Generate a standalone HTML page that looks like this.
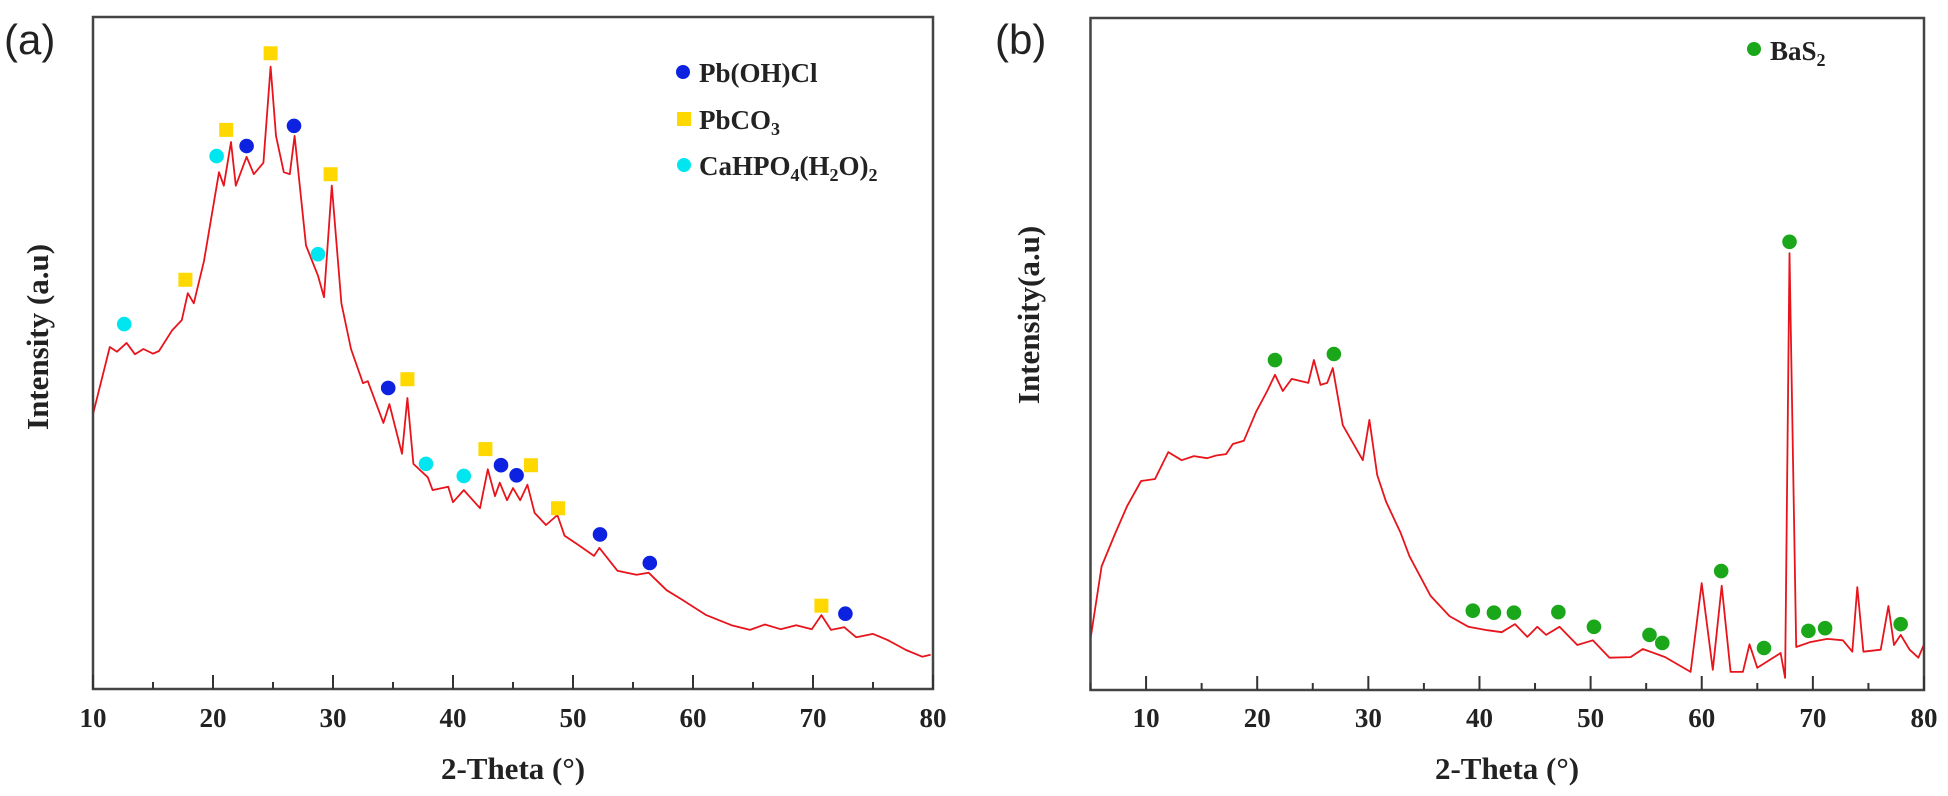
<!DOCTYPE html>
<html><head><meta charset="utf-8"><style>
html,body{margin:0;padding:0;background:#fff;}
svg{display:block;}
.tk{font-family:"Liberation Serif",serif;font-weight:bold;font-size:27px;fill:#222;}
.ttl{font-family:"Liberation Serif",serif;font-weight:bold;font-size:31px;fill:#222;}
.lg{font-family:"Liberation Serif",serif;font-weight:bold;font-size:27px;fill:#222;}
.pl{font-family:"Liberation Sans",sans-serif;font-size:42px;fill:#222;}
</style></head><body>
<svg id="svg" width="1948" height="796" viewBox="0 0 1948 796">
<text class="pl" x="4" y="54">(a)</text>
<text class="pl" x="995" y="54">(b)</text>
<text class="ttl" transform="translate(48,337) rotate(-90)" text-anchor="middle">Intensity (a.u)</text>
<text class="ttl" transform="translate(1039,315) rotate(-90)" text-anchor="middle">Intensity(a.u)</text>
<text class="ttl" x="513" y="779" text-anchor="middle">2-Theta (°)</text>
<text class="ttl" x="1507" y="779" text-anchor="middle">2-Theta (°)</text>
<g id="ga"></g>
<g id="gb"></g>
<g>
<circle cx="683" cy="72" r="7" fill="#0c22e0"/>
<text class="lg" x="699" y="82">Pb(OH)Cl</text>
<rect x="677" y="112" width="14" height="14" fill="#ffd800"/>
<text class="lg" x="699" y="129">PbCO<tspan font-size="18" dy="6">3</tspan></text>
<circle cx="684" cy="165" r="7" fill="#00e6f0"/>
<text class="lg" x="699" y="175">CaHPO<tspan font-size="18" dy="6">4</tspan><tspan dy="-6">(H</tspan><tspan font-size="18" dy="6">2</tspan><tspan dy="-6">O)</tspan><tspan font-size="18" dy="6">2</tspan></text>
</g>
<g>
<circle cx="1754" cy="49" r="7" fill="#1aa81a"/>
<text class="lg" x="1770" y="60">BaS<tspan font-size="18" dy="6">2</tspan></text>
</g>
</svg>
<script>
// Panel (a) data
const aTheta = [10,11.4,12,12.8,13.5,14.2,15,15.5,16.6,17.4,17.9,18.4,19.25,20.5,20.9,21.5,21.9,22.8,23.4,24.2,24.8,25.25,25.9,26.4,26.8,27.75,28.75,29.25,29.9,30.7,31.5,32.5,32.9,34.2,34.7,35.75,36.2,36.7,37.9,38.3,39.6,40,40.9,42.25,42.9,43.5,43.9,44.5,45,45.6,46.2,46.8,47.75,48.7,49.3,50.3,51.75,52.2,53.7,55.3,56.3,57.8,59,61.1,63.2,64.75,66,67.3,68.6,69.9,70.7,71.5,72.6,73.6,75,76.2,77.75,79.1,79.8];
const aInt   = [40.9,50.9,50.2,51.5,49.8,50.6,49.9,50.3,53.4,54.9,58.9,57.4,63.7,76.9,74.9,81.4,74.9,79.2,76.6,78.3,92.6,82.3,76.9,76.6,82.3,66,61.5,58.3,74.9,57.4,50.6,45.5,45.8,39.6,42.4,35,43.3,33.5,31.5,29.6,30.1,27.8,29.6,26.9,32.7,28.7,30.7,28.1,29.9,28.1,30.4,26.2,24.4,25.9,22.8,21.6,19.8,21,17.6,17,17.3,14.7,13.4,11,9.5,8.8,9.6,8.9,9.5,8.9,11,8.8,9.2,7.7,8.2,7.3,5.8,4.8,5.1];
const aPhaseTheta = [12.6,17.7,20.3,21.1,22.8,24.8,26.75,28.75,29.8,34.6,36.2,37.75,40.9,42.7,44,45.3,46.5,48.75,52.25,56.4,70.7,72.7];
const aPhaseInt   = [54.3,60.9,79.3,83.2,80.8,94.6,83.8,64.7,76.6,44.8,46.1,33.5,31.7,35.7,33.3,31.8,33.3,26.9,23,18.75,12.4,11.2];
const aPhaseType  = ["c","y","c","y","b","y","b","c","y","b","y","c","c","y","b","b","y","y","b","b","y","b"];
const aTicks = [10,20,30,40,50,60,70,80];
// Panel (b) data
const bTheta = [5,6,7.2,8.3,9.55,10.8,12,13.2,14.3,15.5,16.3,17.2,17.8,18.8,19.9,20.9,21.6,22.3,23.1,24.6,25.1,25.7,26.3,26.8,27.7,29.5,30.1,30.8,31.6,32.9,33.7,35.6,37.3,39,40.7,42,43.2,44.3,45.2,46,47.2,48.8,50.2,51.7,53.6,54.7,56.7,59,60,61,61.8,62.6,63.7,64.3,65,67.1,67.5,67.9,68.5,69.7,71.3,72.7,73.55,74,74.55,76.1,76.8,77.3,77.9,78.7,79.5,80];
const bInt   = [7.6,18.4,23.2,27.4,31.1,31.4,35.4,34.2,34.8,34.5,34.9,35.1,36.6,37.1,41.4,44.5,46.9,44.5,46.3,45.7,49.1,45.4,45.7,47.9,39.4,34.2,40.2,32,28,23.4,19.9,14,11,9.4,8.9,8.6,9.8,7.9,9.4,8.2,9.4,6.7,7.4,4.8,4.9,6.1,4.9,2.7,15.9,3,15.5,2.7,2.7,6.8,3.3,5.5,1.8,65,6.4,7.1,7.6,7.4,5.7,15.3,5.7,6,12.5,6.7,8.2,6,4.8,6.8];
const bPhaseTheta = [21.6,26.9,39.4,41.3,43.1,47.1,50.3,55.3,56.45,61.75,65.6,67.9,69.6,71.1,77.9];
const bPhaseInt   = [49.1,50,11.8,11.5,11.5,11.6,9.4,8.2,7,17.7,6.25,66.7,8.8,9.2,9.8];
const bTicks = [10,20,30,40,50,60,70,80];

const NS = "http://www.w3.org/2000/svg";
function mk(tag, attrs, parent){ const e=document.createElementNS(NS,tag); for(const k in attrs) e.setAttribute(k,attrs[k]); parent.appendChild(e); return e; }

function panel(g, P, theta, inten, pT, pI, pType, ticks, color){
  const xs = v => P.x0 + (v - P.t0) * (P.x1 - P.x0) / (P.t1 - P.t0);
  const ys = v => P.yb - v * 6.72;
  let d = "";
  for(let i=0;i<theta.length;i++) d += (i? "L":"M") + xs(theta[i]).toFixed(1) + "," + ys(inten[i]).toFixed(1);
  const line = mk("path",{d:d,fill:"none",stroke:"#e8141c","stroke-width":"1.8","stroke-linejoin":"round"},g);
  
  
  const fr = mk("rect",{x:P.x0,y:P.yt,width:P.x1-P.x0,height:P.yb-P.yt,fill:"none",stroke:"#444","stroke-width":"2.5"},g);
  
  
  for(let v=P.t0; v<=P.t1; v+=5){
    const major = v % 10 === 0;
    const t = mk("line",{x1:xs(v),x2:xs(v),y1:P.yb,y2:P.yb-(major?14:7),stroke:"#333","stroke-width":"2"},g);
    
    
  }
  ticks.forEach(v=>{
    const t = mk("text",{x:xs(v),y:727,"text-anchor":"middle",class:"tk"},g);
    t.textContent = v;
    
    
  });
  const cols = {b:"#0c22e0", y:"#ffd800", c:"#00e6f0", g:"#1aa81a"};
  for(let i=0;i<pT.length;i++){
    const tp = pType ? pType[i] : "g";
    const cx = xs(pT[i]), cy = ys(pI[i]);
    let m;
    if(tp==="y") m = mk("rect",{x:cx-7,y:cy-7,width:14,height:14,fill:cols[tp]},g);
    else m = mk("circle",{cx:cx,cy:cy,r:7.3,fill:cols[tp]},g);
    
    
  }
}
panel(document.getElementById("ga"), {x0:93,x1:933,t0:10,t1:80,yt:17,yb:689}, aTheta, aInt, aPhaseTheta, aPhaseInt, aPhaseType, aTicks);
panel(document.getElementById("gb"), {x0:1090.5,x1:1924,t0:5,t1:80,yt:18,yb:690}, bTheta, bInt, bPhaseTheta, bPhaseInt, null, bTicks);
</script>
</body></html>
